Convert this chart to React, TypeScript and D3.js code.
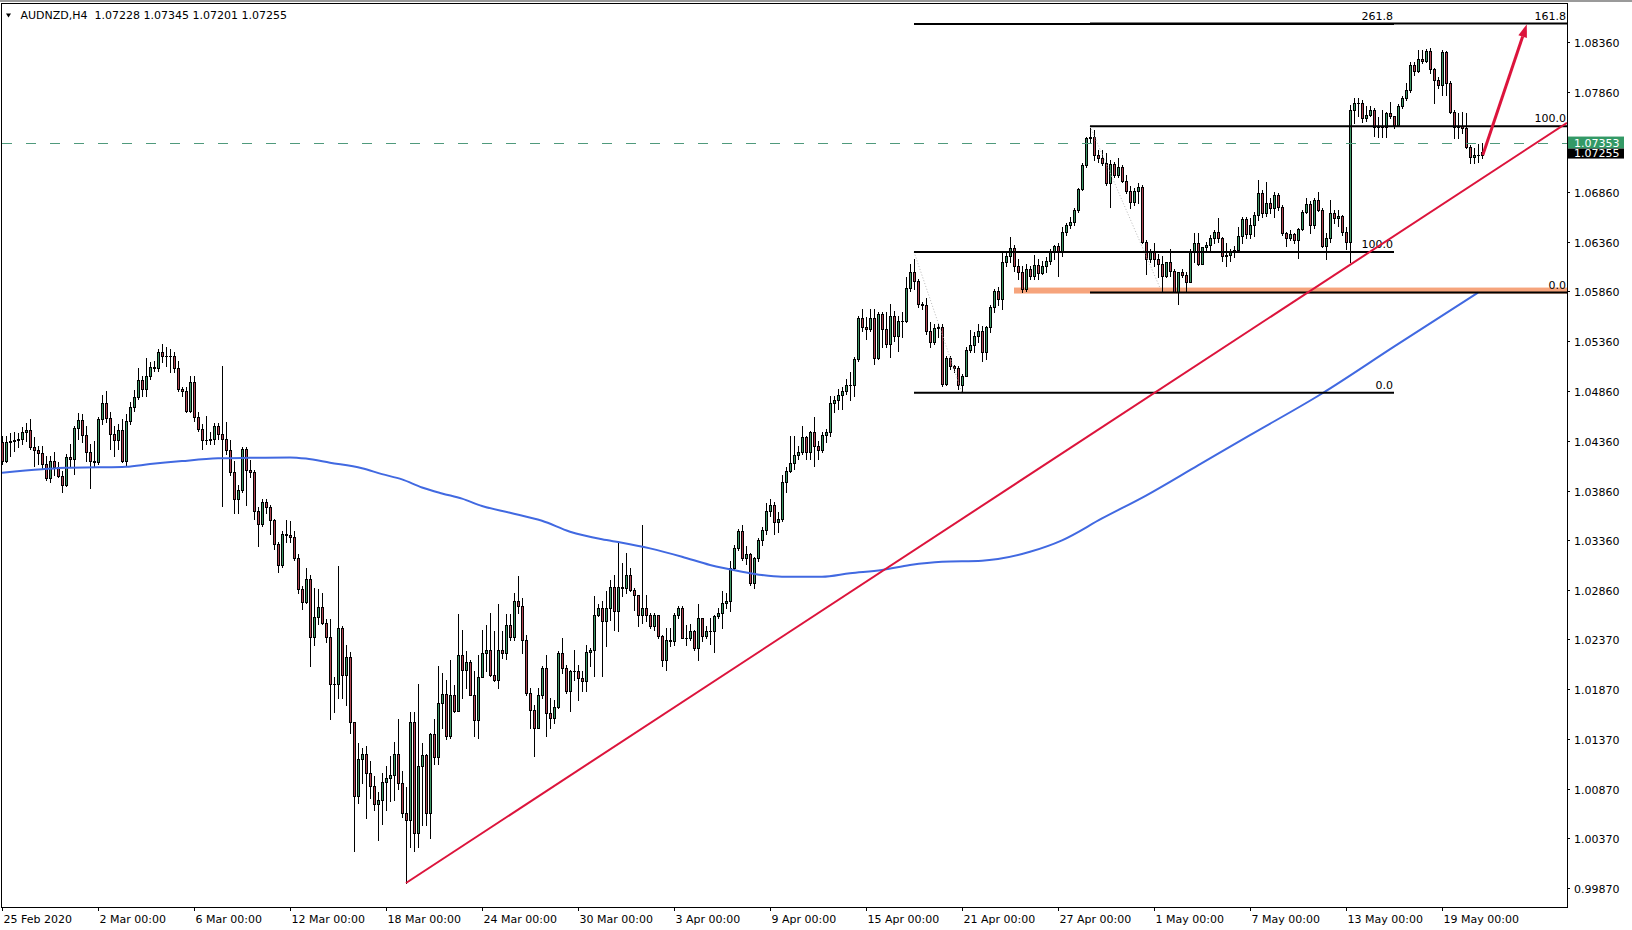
import { useEffect, useRef } from "react";
import * as d3 from "d3";

const W = 1632;
const H = 930;

// header line of the MT4 window
const headerText = "AUDNZD,H4  1.07228 1.07345 1.07201 1.07255";

// H4 candles, prices in pips above 1.0000 (open = previous close)
const firstOpenPips = 435;
const closePips = [
  416, 435, 436, 437, 438, 445, 447, 430, 427, 424,
  413, 399, 416, 410, 401, 392, 420, 418, 449, 457,
  442, 425, 416, 415, 458, 474, 459, 443, 437, 447,
  416, 456, 470, 480, 497, 488, 501, 510, 509, 525,
  521, 521, 521, 509, 488, 486, 466, 495, 460, 448,
  437, 437, 438, 451, 443, 438, 427, 405, 378, 387,
  428, 407, 405, 366, 353, 375, 370, 357, 332, 311,
  343, 342, 340, 318, 287, 274, 297, 239, 259, 269,
  253, 239, 192, 192, 248, 201, 219, 154, 80, 117,
  122, 103, 90, 72, 76, 94, 98, 101, 122, 93,
  63, 56, 154, 42, 110, 121, 63, 142, 119, 173,
  182, 140, 181, 165, 221, 206, 214, 181, 156, 199,
  223, 226, 201, 196, 226, 223, 251, 239, 275, 270,
  236, 183, 166, 148, 181, 208, 163, 158, 169, 223,
  208, 185, 205, 205, 198, 195, 224, 226, 261, 268,
  255, 268, 289, 265, 289, 288, 301, 286, 281, 261,
  268, 261, 250, 261, 240, 216, 236, 235, 261, 268,
  238, 238, 245, 228, 258, 240, 245, 245, 260, 263,
  273, 275, 308, 328, 346, 318, 322, 293, 318, 336,
  347, 366, 372, 355, 358, 395, 406, 414, 422, 425,
  440, 425, 445, 431, 427, 442, 445, 474, 477, 482,
  486, 492, 492, 518, 559, 550, 548, 559, 519, 563,
  548, 533, 561, 541, 556, 556, 589, 605, 596, 573,
  572, 546, 535, 549, 550, 493, 519, 511, 509, 492,
  501, 527, 532, 541, 546, 525, 550, 570, 586, 578,
  615, 621, 629, 611, 605, 588, 608, 601, 612, 604,
  611, 616, 625, 632, 625, 646, 653, 656, 668, 689,
  713, 740, 741, 723, 720, 715, 695, 714, 703, 711,
  697, 687, 676, 687, 691, 636, 618, 625, 618, 613,
  601, 615, 606, 585, 605, 602, 595, 626, 635, 613,
  630, 633, 640, 646, 640, 621, 622, 626, 627, 642,
  659, 644, 653, 663, 685, 665, 675, 670, 683, 671,
  645, 640, 644, 638, 649, 666, 674, 653, 678, 668,
  631, 640, 665, 660, 662, 646, 636, 768, 775, 775,
  760, 763, 768, 751, 752, 751, 765, 762, 753, 772,
  780, 788, 813, 807, 819, 817, 827, 809, 798, 793,
  826, 795, 766, 751, 752, 750, 731, 721, 723, 723,
  725.5,
];
const highPips = [
  441, 441, 444, 445, 444, 450, 454, 458, 440, 431,
  431, 421, 421, 425, 415, 406, 423, 433, 451, 464,
  463, 451, 433, 436, 460, 482, 486, 465, 451, 453,
  458, 463, 475, 487, 509, 501, 519, 515, 516, 528,
  533, 530, 528, 525, 516, 490, 490, 501, 501, 465,
  453, 461, 445, 454, 454, 511, 455, 437, 416, 392,
  430, 430, 417, 407, 370, 378, 378, 372, 358, 334,
  346, 357, 356, 346, 322, 290, 308, 301, 288, 287,
  283, 257, 257, 199, 310, 250, 231, 224, 154, 133,
  128, 130, 115, 100, 84, 103, 110, 120, 134, 157,
  105, 89, 164, 164, 192, 133, 122, 143, 157, 210,
  203, 196, 216, 191, 262, 246, 225, 216, 205, 221,
  246, 251, 263, 245, 272, 245, 262, 262, 283, 300,
  278, 241, 188, 171, 188, 210, 221, 178, 176, 225,
  238, 211, 206, 226, 211, 205, 231, 228, 280, 272,
  275, 285, 296, 301, 334, 313, 323, 308, 288, 281,
  352, 281, 263, 263, 252, 241, 248, 248, 263, 270,
  270, 251, 252, 246, 272, 258, 250, 258, 261, 268,
  285, 283, 315, 331, 348, 352, 330, 323, 319, 339,
  350, 374, 378, 375, 365, 402, 410, 441, 441, 431,
  451, 441, 446, 460, 436, 445, 448, 481, 481, 488,
  490, 498, 505, 520, 561, 568, 560, 568, 568, 565,
  565, 565, 573, 566, 561, 565, 600, 613, 618, 598,
  575, 579, 555, 553, 553, 553, 521, 521, 512, 511,
  503, 530, 547, 545, 553, 551, 551, 572, 588, 590,
  625, 625, 641, 633, 618, 611, 613, 611, 622, 618,
  616, 620, 628, 633, 635, 651, 655, 661, 670, 690,
  715, 741, 750, 748, 728, 728, 725, 718, 716, 720,
  713, 703, 692, 690, 695, 693, 638, 628, 635, 623,
  621, 615, 628, 608, 605, 608, 605, 628, 645, 645,
  630, 636, 643, 648, 660, 641, 635, 628, 632, 651,
  661, 661, 660, 666, 698, 688, 696, 680, 686, 685,
  673, 646, 648, 645, 650, 668, 680, 677, 680, 686,
  670, 645, 678, 668, 668, 663, 651, 773, 780, 780,
  778, 772, 772, 770, 761, 768, 766, 776, 760, 774,
  782, 795, 816, 816, 828, 828, 829, 830, 810, 801,
  828, 827, 797, 768, 765, 766, 765, 733, 730, 734,
  734.5,
];
const lowPips = [
  413, 415, 421, 426, 430, 433, 436, 428, 411, 413,
  408, 397, 395, 402, 400, 385, 391, 411, 403, 438,
  435, 416, 389, 411, 413, 453, 455, 428, 421, 428,
  415, 411, 453, 466, 478, 481, 481, 498, 506, 506,
  515, 511, 505, 505, 486, 481, 465, 465, 456, 446,
  428, 433, 433, 433, 438, 371, 423, 402, 364, 364,
  385, 372, 400, 358, 330, 351, 364, 343, 327, 304,
  309, 334, 334, 316, 283, 267, 273, 210, 231, 252,
  252, 234, 157, 164, 178, 178, 171, 143, 24, 73,
  93, 58, 78, 66, 35, 52, 66, 75, 76, 87,
  59, -8, 28, 24, 28, 51, 51, 37, 112, 112,
  148, 137, 138, 164, 179, 178, 188, 181, 140, 138,
  201, 205, 200, 195, 188, 218, 217, 236, 236, 263,
  223, 181, 148, 120, 148, 178, 140, 148, 153, 168,
  203, 183, 165, 196, 176, 185, 185, 210, 200, 260,
  200, 230, 256, 246, 245, 280, 283, 285, 266, 250,
  253, 255, 248, 246, 238, 210, 206, 230, 231, 258,
  238, 231, 236, 226, 216, 235, 238, 232, 224, 258,
  248, 268, 265, 306, 326, 316, 312, 291, 288, 315,
  331, 343, 361, 343, 345, 356, 385, 405, 408, 418,
  423, 418, 418, 411, 418, 425, 435, 441, 465, 468,
  468, 483, 477, 481, 516, 546, 538, 546, 513, 518,
  530, 530, 520, 536, 526, 540, 555, 586, 588, 570,
  568, 543, 530, 533, 540, 491, 492, 508, 505, 488,
  486, 501, 525, 525, 535, 516, 518, 545, 565, 572,
  568, 611, 615, 606, 598, 585, 586, 598, 598, 598,
  603, 605, 613, 618, 601, 621, 643, 650, 653, 666,
  688, 711, 736, 718, 716, 713, 693, 671, 701, 701,
  696, 685, 670, 673, 675, 635, 603, 615, 611, 600,
  586, 600, 601, 585, 573, 600, 585, 595, 615, 612,
  615, 625, 626, 635, 636, 616, 611, 616, 620, 625,
  635, 640, 640, 642, 658, 661, 662, 665, 661, 668,
  643, 631, 638, 635, 619, 648, 665, 645, 650, 667,
  630, 618, 636, 655, 652, 643, 628, 615, 755, 762,
  756, 757, 762, 742, 741, 741, 741, 760, 750, 753,
  770, 778, 786, 803, 806, 815, 816, 805, 775, 790,
  783, 783, 765, 740, 740, 745, 730, 715, 715, 716,
  720.1,
];

// moving average read at a few bars
const maBars = [
  0, 10, 16, 24, 31, 37, 45, 54, 62, 72, 76, 82, 90, 95, 100, 105, 110, 115, 120, 127,
  135, 142, 150, 155, 162, 170, 177, 185, 190, 195, 205, 212, 220, 227, 235, 245, 249, 257,
  265, 275, 286, 299, 312, 330, 348, 369,
];
const maValues = [
  1.0404, 1.04074, 1.0409, 1.04094, 1.041, 1.04127, 1.04157, 1.04184, 1.0419, 1.04194,
  1.04182, 1.04141, 1.04085, 1.04026, 1.03973, 1.03892, 1.03832, 1.0378, 1.03706, 1.03639,
  1.03558, 1.03448, 1.03372, 1.03338, 1.03281, 1.03197, 1.03114, 1.03047, 1.03013, 1.02996,
  1.02996, 1.03031, 1.03064, 1.03114, 1.03147, 1.03157, 1.03174, 1.03247, 1.03362, 1.03581,
  1.03811, 1.04114, 1.04417, 1.04835, 1.05305, 1.05848,
];

const timeTickBars = [0, 24, 48, 72, 96, 120, 144, 168, 192, 216, 240, 264, 288, 312, 336, 360];
const timeTickLabels = [
  "25 Feb 2020", "2 Mar 00:00", "6 Mar 00:00", "12 Mar 00:00", "18 Mar 00:00", "24 Mar 00:00",
  "30 Mar 00:00", "3 Apr 00:00", "9 Apr 00:00", "15 Apr 00:00", "21 Apr 00:00", "27 Apr 00:00",
  "1 May 00:00", "7 May 00:00", "13 May 00:00", "19 May 00:00",
];
// 1.07360 sits under the price boxes, so it is left out
const priceTicks = [
  0.9987, 1.0037, 1.0087, 1.0137, 1.0187, 1.0237, 1.0286, 1.0336, 1.0386, 1.0436, 1.0486,
  1.0536, 1.0586, 1.0636, 1.0686, 1.0786, 1.0836,
];

// drawn objects
const trendFrom = { bar: 101, price: 0.99923 };
const trendTo = { bar: 391.25, price: 1.07552 };
const arrowFrom = { bar: 370.2, price: 1.07228 };
const arrowTo = { bar: 381.2, price: 1.0854 };
const fibA = { fromBar: 228, toBar: 348, lowBar: 240, low: 1.04843, high: 1.06256, levels: [0, 100, 261.8] };
const fibB = { fromBar: 272, toBar: 391.25, lowBar: 290, low: 1.05848, high: 1.07516, levels: [0, 100, 161.8] };
const zone = { fromBar: 253, top: 1.05898, bottom: 1.05838 };
const markedPrice = 1.07353;
const lastPrice = 1.07255;

const BULL = "#3c9664";
const BEAR = "#b04452";
const FONT = "'DejaVu Sans', Tahoma, sans-serif";

export default function App() {
  const svgRef = useRef<SVGSVGElement>(null);

  useEffect(() => {
    if (!svgRef.current) return;
    const svg = d3.select(svgRef.current);
    svg.selectAll("*").remove();

    const left = 2, right = 1567, top = 4, bottom = 907;
    const x = d3.scaleLinear().domain([0, 391.25]).range([left, right]);
    const y = d3.scaleLinear().domain([0.9987, 1.0836]).range([888.3, 42.2]);
    const px = (p: number) => 1 + p / 10000;

    const bars = closePips.map((c, i) => {
      const o = i === 0 ? firstOpenPips : closePips[i - 1];
      return {
        i,
        o: px(o),
        c: px(c),
        h: px(Math.max(highPips[i], o, c)),
        l: px(Math.min(lowPips[i], o, c)),
      };
    });

    svg.append("rect").attr("width", W).attr("height", H).attr("fill", "#ffffff");
    svg.append("rect").attr("width", W).attr("height", 2).attr("fill", "#9a9a9a");

    svg.append("clipPath").attr("id", "plotClip")
      .append("rect").attr("x", left).attr("y", top).attr("width", right - left).attr("height", bottom - top);

    const plot = svg.append("g").attr("clip-path", "url(#plotClip)");

    // support zone
    plot.append("rect")
      .attr("x", x(zone.fromBar))
      .attr("y", y(zone.top))
      .attr("width", right - x(zone.fromBar))
      .attr("height", y(zone.bottom) - y(zone.top))
      .attr("fill", "#f6a47c");

    // candles
    const cg = plot.append("g").attr("shape-rendering", "crispEdges");
    const cx = (d: any) => Math.round(x(d.i));
    const bodyTop = (d: any) => Math.round(y(Math.max(d.o, d.c)));
    const bodyBot = (d: any) => Math.round(y(Math.min(d.o, d.c)));
    cg.selectAll(".wick").data(bars).enter().append("rect")
      .attr("x", cx)
      .attr("y", (d) => Math.round(y(d.h)))
      .attr("width", 1)
      .attr("height", (d) => Math.round(y(d.l)) - Math.round(y(d.h)) + 1)
      .attr("fill", "#000");
    cg.selectAll(".body").data(bars).enter().append("rect")
      .attr("x", (d) => cx(d) - 1)
      .attr("y", bodyTop)
      .attr("width", 3)
      .attr("height", (d) => bodyBot(d) - bodyTop(d) + 1)
      .attr("fill", "#000");
    cg.selectAll(".fill")
      .data(bars.filter((d) => bodyBot(d) - bodyTop(d) >= 2))
      .enter().append("rect")
      .attr("x", cx)
      .attr("y", (d) => bodyTop(d) + 1)
      .attr("width", 1)
      .attr("height", (d) => bodyBot(d) - bodyTop(d) - 1)
      .attr("fill", (d) => (d.c >= d.o ? BULL : BEAR));

    // moving average
    const maLine = d3.line<number>()
      .x((_, k) => x(maBars[k]))
      .y((v) => y(v))
      .curve(d3.curveMonotoneX);
    plot.append("path").attr("d", maLine(maValues)).attr("fill", "none")
      .attr("stroke", "#4169e1").attr("stroke-width", 2);

    // marked price dashed line
    plot.append("line")
      .attr("x1", left).attr("x2", right)
      .attr("y1", Math.round(y(markedPrice)) + 0.5).attr("y2", Math.round(y(markedPrice)) + 0.5)
      .attr("stroke", "#4f9a7c").attr("stroke-width", 1).attr("stroke-dasharray", "10,14");

    // fibonacci objects
    [fibA, fibB].forEach((f) => {
      plot.append("line")
        .attr("x1", x(f.fromBar)).attr("y1", y(f.high))
        .attr("x2", x(f.lowBar)).attr("y2", y(f.low))
        .attr("stroke", "#b8b8b8").attr("stroke-width", 1).attr("stroke-dasharray", "1,2");
      const x1 = x(f.fromBar), x2 = Math.min(x(f.toBar), right);
      f.levels.forEach((lv) => {
        const ly = y(f.low + ((f.high - f.low) * lv) / 100);
        plot.append("line")
          .attr("x1", x1).attr("x2", x2).attr("y1", ly).attr("y2", ly)
          .attr("stroke", "#000").attr("stroke-width", 2);
        plot.append("text")
          .attr("x", x2 - 1).attr("y", ly - 4)
          .attr("text-anchor", "end")
          .attr("font-family", FONT).attr("font-size", 11).attr("fill", "#000")
          .text(lv.toFixed(1));
      });
    });

    // trend line
    plot.append("line")
      .attr("x1", x(trendFrom.bar)).attr("y1", y(trendFrom.price))
      .attr("x2", x(trendTo.bar)).attr("y2", y(trendTo.price))
      .attr("stroke", "#dc143c").attr("stroke-width", 2);

    // projection arrow
    const ax1 = x(arrowFrom.bar), ay1 = y(arrowFrom.price);
    const ax2 = x(arrowTo.bar), ay2 = y(arrowTo.price);
    const ang = Math.atan2(ay2 - ay1, ax2 - ax1);
    const headLen = 13, headW = 4.5;
    const bx = ax2 - headLen * Math.cos(ang), by = ay2 - headLen * Math.sin(ang);
    plot.append("line")
      .attr("x1", ax1).attr("y1", ay1).attr("x2", bx).attr("y2", by)
      .attr("stroke", "#dc143c").attr("stroke-width", 3);
    plot.append("path")
      .attr("d", `M${ax2},${ay2} L${bx - headW * Math.sin(ang)},${by + headW * Math.cos(ang)} L${bx + headW * Math.sin(ang)},${by - headW * Math.cos(ang)} Z`)
      .attr("fill", "#dc143c");

    // frame
    svg.append("rect")
      .attr("x", left - 0.5).attr("y", top - 0.5)
      .attr("width", right - left + 1).attr("height", bottom - top + 1)
      .attr("fill", "none").attr("stroke", "#000").attr("stroke-width", 1);

    // price axis
    const yAxis = svg.append("g").attr("font-family", FONT).attr("font-size", 11);
    priceTicks.forEach((p) => {
      const ty = Math.round(y(p)) + 0.5;
      yAxis.append("line").attr("x1", right).attr("x2", right + 3).attr("y1", ty).attr("y2", ty).attr("stroke", "#000");
      yAxis.append("text").attr("x", 1574).attr("y", ty + 4).attr("fill", "#000").text(p.toFixed(5));
    });

    // time axis
    const xAxis = svg.append("g").attr("font-family", FONT).attr("font-size", 11);
    timeTickBars.forEach((b, k) => {
      const tx = Math.round(x(b)) + 0.5;
      xAxis.append("line").attr("x1", tx).attr("x2", tx).attr("y1", bottom).attr("y2", bottom + 4).attr("stroke", "#000");
      xAxis.append("text").attr("x", tx + 1).attr("y", 923).attr("fill", "#000").text(timeTickLabels[k]);
    });

    // price labels on the axis: marked price box, last price box just below it
    const gy = y(markedPrice);
    const boxes = [
      { price: markedPrice, fill: "#339966", top: gy - 6, h: 12 },
      { price: lastPrice, fill: "#000000", top: gy + 6, h: 10 },
    ];
    boxes.forEach((b) => {
      svg.append("rect").attr("x", right + 1).attr("y", b.top).attr("width", 56).attr("height", b.h).attr("fill", b.fill);
      svg.append("text").attr("x", 1574).attr("y", b.top + b.h - 1.5)
        .attr("font-family", FONT).attr("font-size", 11).attr("fill", "#fff")
        .text(b.price.toFixed(5));
    });

    // header
    svg.append("path").attr("d", "M6,13.5 L11,13.5 L8.5,17.5 Z").attr("fill", "#000");
    svg.append("text").attr("x", 20.5).attr("y", 19)
      .attr("font-family", FONT).attr("font-size", 11).attr("fill", "#000")
      .attr("xml:space", "preserve").style("white-space", "pre")
      .text(headerText);
  }, []);

  return (
    <svg
      ref={svgRef}
      width={W}
      height={H}
      style={{ position: "fixed", left: 0, top: 0, display: "block" }}
    />
  );
}
